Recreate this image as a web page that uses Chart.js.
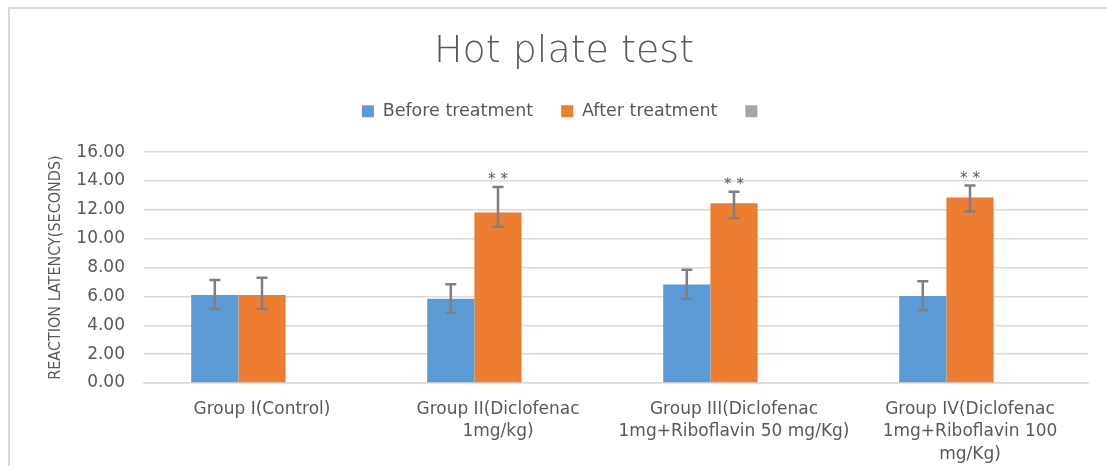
<!DOCTYPE html>
<html>
<head>
<meta charset="utf-8">
<script src="https://cdn.jsdelivr.net/npm/chart.js@4.4.1/dist/chart.umd.min.js"></script>
<style>
  html, body { margin: 0; padding: 0; background: #ffffff; overflow: hidden; }
  #wrap { position: relative; width: 1107px; height: 466px; overflow: hidden; }
  #frame { position: absolute; left: 8px; top: 7px; width: 1120px; height: 500px;
           border-top: 2px solid #d9d9d9; border-left: 2px solid #d9d9d9; }
  canvas { position: absolute; left: 0; top: 0; }
</style>
</head>
<body>
<div id="wrap">
  <div id="frame"></div>
  <canvas id="c" width="1107" height="466"></canvas>
</div>
<script>
const categories = [
  ["Group I(Control)"],
  ["Group II(Diclofenac", "1mg/kg)"],
  ["Group III(Diclofenac", "1mg+Riboflavin 50 mg/Kg)"],
  ["Group IV(Diclofenac", "1mg+Riboflavin 100", "mg/Kg)"]
];
const seriesNames = ["Before treatment", "After treatment", ""];
const beforeTreatment = [6.10, 5.83, 6.82, 6.03];
const afterTreatment = [6.10, 11.81, 12.46, 12.85];
const thirdSeries = [null, null, null, null];
const beforeErrUp = [1.04, 1.01, 1.02, 1.02];
const beforeErrDown = [0.97, 0.98, 0.99, 0.99];
const afterErrUp = [1.19, 1.78, 0.79, 0.83];
const afterErrDown = [0.98, 0.99, 1.04, 0.97];
const significance = ["", "* *", "* *", "* *"];
const yTicks = [0, 2, 4, 6, 8, 10, 12, 14, 16];

const textColor = '#595959';

const errorBarPlugin = {
  id: 'errorBars',
  afterDatasetsDraw(chart) {
    const ctx = chart.ctx;
    const yScale = chart.scales.y;
    const sets = [
      { idx: 0, vals: beforeTreatment, up: beforeErrUp, down: beforeErrDown },
      { idx: 1, vals: afterTreatment, up: afterErrUp, down: afterErrDown }
    ];
    ctx.save();
    ctx.strokeStyle = '#7f7f7f';
    ctx.lineWidth = 2.5;
    sets.forEach(s => {
      const meta = chart.getDatasetMeta(s.idx);
      meta.data.forEach((bar, i) => {
        const x = bar.x;
        const yTop = yScale.getPixelForValue(s.vals[i] + s.up[i]);
        const yBot = yScale.getPixelForValue(s.vals[i] - s.down[i]);
        ctx.beginPath();
        ctx.moveTo(x, yTop); ctx.lineTo(x, yBot);
        ctx.moveTo(x - 5.5, yTop); ctx.lineTo(x + 5.5, yTop);
        ctx.moveTo(x - 5.5, yBot); ctx.lineTo(x + 5.5, yBot);
        ctx.stroke();
        if (s.idx === 1 && significance[i]) {
          ctx.fillStyle = textColor;
          ctx.font = '15px "DejaVu Sans"';
          ctx.textAlign = 'center';
          ctx.textBaseline = 'alphabetic';
          ctx.fillText(significance[i], x, yTop - 3);
        }
      });
    });
    ctx.restore();
  }
};

new Chart(document.getElementById('c'), {
  type: 'bar',
  data: {
    labels: categories,
    datasets: [
      { label: seriesNames[0], data: beforeTreatment, backgroundColor: '#5B9BD5', borderWidth: 0 },
      { label: seriesNames[1], data: afterTreatment, backgroundColor: '#ED7D31', borderWidth: 0 },
      { label: seriesNames[2], data: thirdSeries, backgroundColor: '#A5A5A5', borderWidth: 0 }
    ]
  },
  options: {
    responsive: false,
    animation: false,
    devicePixelRatio: 1,
    layout: { padding: { left: 40, right: 19, top: 0, bottom: 0 } },
    datasets: { bar: { categoryPercentage: 0.6, barPercentage: 1.0 } },
    plugins: {
      title: {
        display: true,
        text: 'Hot plate test',
        color: textColor,
        font: { family: '"DejaVu Sans"', size: 38, weight: 200 },
        padding: { top: 29, bottom: 0 }
      },
      legend: {
        display: true,
        position: 'top',
        labels: {
          color: textColor,
          font: { family: '"DejaVu Sans"', size: 17.5 },
          boxWidth: 12,
          boxHeight: 12,
          padding: 28
        }
      },
      tooltip: { enabled: false }
    },
    scales: {
      xTop: {
        type: 'category',
        position: 'top',
        display: true,
        grid: { display: false },
        border: { display: false },
        ticks: { display: false },
        afterFit: s => { s.height = 22; }
      },
      x: {
        grid: { display: false },
        border: { display: true, color: '#d9d9d9', width: 1.5 },
        ticks: {
          color: textColor,
          font: { family: '"DejaVu Sans"', size: 17, lineHeight: 1.32 },
          padding: 7,
          maxRotation: 0,
          autoSkip: false
        },
        afterFit: s => { s.height = 83; }
      },
      y: {
        min: 0,
        max: 16,
        afterBuildTicks: s => { s.ticks = yTicks.map(v => ({ value: v })); },
        grid: { color: '#d9d9d9', lineWidth: 1.5, drawTicks: false },
        border: { display: false },
        ticks: {
          color: textColor,
          font: { family: '"DejaVu Sans"', size: 17 },
          padding: 19,
          callback: v => Number(v).toFixed(2)
        },
        title: {
          display: true,
          text: 'REACTION LATENCY(SECONDS)',
          color: textColor,
          font: { family: '"Liberation Sans Narrow", "DejaVu Sans Condensed", sans-serif', size: 16 },
          padding: { top: 6, bottom: 0 }
        },
        afterFit: s => { s.width = 104; }
      }
    }
  },
  plugins: [errorBarPlugin]
});
</script>
</body>
</html>
